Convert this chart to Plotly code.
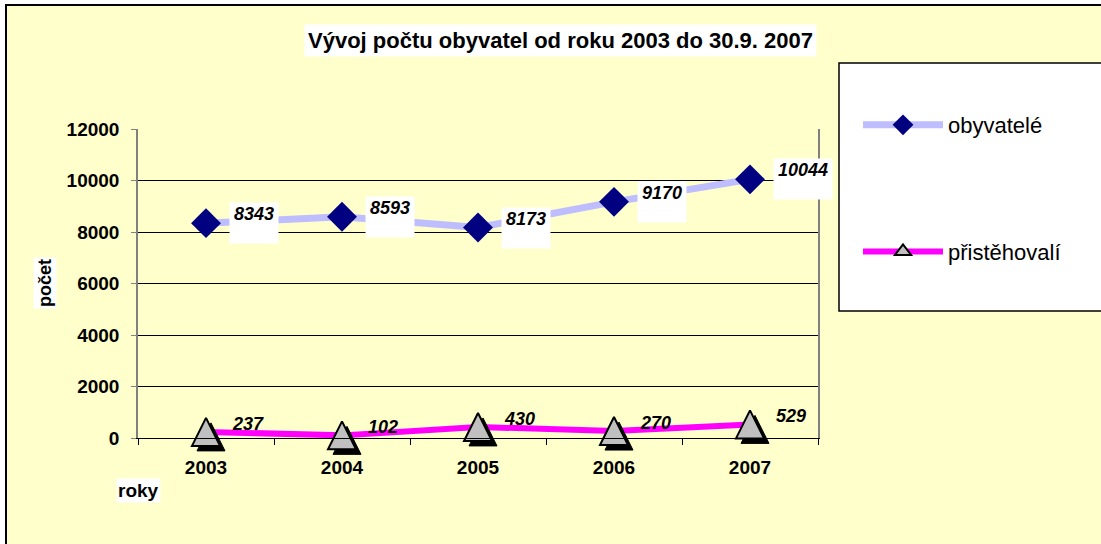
import plotly.graph_objects as go

# ---- data ----
years = ["2003", "2004", "2005", "2006", "2007"]
obyvatele = [8343, 8593, 8173, 9170, 10044]
pristehovali = [237, 102, 430, 270, 529]
series_names = ["obyvatelé", "přistěhovalí"]
title_text = "Vývoj počtu obyvatel od roku 2003 do 30.9. 2007"
x_title = "roky"
y_title = "počet"
y_ticks = [0, 2000, 4000, 6000, 8000, 10000, 12000]
y_ticklabels = [str(v) for v in y_ticks]

# ---- layout constants (pixels) ----
W, H = 1101, 544
ML, MR, MT, MB = 138, 283, 129, 106
PW = W - ML - MR
PH = H - MT - MB
YMAX = 12000
XR = [-0.5, len(years) - 0.5]
FONT = "Arial, 'Liberation Sans', sans-serif"
BG = "#FFFFCC"
TRI = 28          # triangle marker size (px)

def px_x(px):
    return (px - ML) / PW

def px_y(py):
    return (H - MB - py) / PH

ux = (XR[1] - XR[0]) / PW
uy = YMAX / PH

def xr_shift(dx):   # move marks right by dx px
    return [XR[0] - dx * ux, XR[1] - dx * ux]

def yr_shift(dy):   # move marks up by dy px
    return [-dy * uy, YMAX - dy * uy]

fig = go.Figure()

# obyvatelé
fig.add_trace(go.Scatter(
    x=years, y=obyvatele, mode="lines+markers", name=series_names[0],
    line=dict(color="#BDBDFF", width=7),
    marker=dict(symbol="diamond", size=23, color="#000080"),
    legendgroup="a", cliponaxis=False))

# přistěhovalí line
fig.add_trace(go.Scatter(
    x=years, y=pristehovali, mode="lines", name=series_names[1],
    line=dict(color="#FF00FF", width=6), showlegend=False,
    legendgroup="b", cliponaxis=False))

# shadow triangles (offset right/down)
fig.add_trace(go.Scatter(
    x=years, y=pristehovali, mode="markers", xaxis="x2", yaxis="y2",
    marker=dict(symbol="arrow-up", size=TRI, color="black",
                line=dict(color="black", width=1)),
    showlegend=False, hoverinfo="skip", cliponaxis=False))

# triangles (centred on the value)
fig.add_trace(go.Scatter(
    x=years, y=pristehovali, mode="markers", xaxis="x3", yaxis="y3",
    name=series_names[1],
    marker=dict(symbol="arrow-up", size=TRI, color="#C0C0C0",
                line=dict(color="black", width=2)),
    showlegend=False, legendgroup="b", cliponaxis=False))

# legend entry for přistěhovalí
fig.add_trace(go.Scatter(
    x=[None], y=[None], mode="lines+markers", name=series_names[1],
    line=dict(color="#FF00FF", width=6),
    marker=dict(symbol="triangle-up", size=14, color="#C0C0C0",
                line=dict(color="black", width=2)),
    legendgroup="b"))

annotations = []
for i, v in enumerate(obyvatele):
    t = str(v)
    annotations.append(dict(
        x=i, y=v, xref="x", yref="y", text="<b><i>%s</i></b>" % t,
        showarrow=False, xanchor="left", yanchor="middle", xshift=23,
        bgcolor="white", width=10 * len(t) + 6, height=38, valign="top",
        align="center", font=dict(family=FONT, size=18, color="black")))
for i, v in enumerate(pristehovali):
    annotations.append(dict(
        x=i, y=v, xref="x", yref="y", text="<b><i>%s</i></b>" % v,
        showarrow=False, xanchor="left", yanchor="middle", xshift=24, yshift=8,
        font=dict(family=FONT, size=18, color="black")))

annotations.append(dict(
    x=px_x(560), y=px_y(40), xref="paper", yref="paper",
    text="<b>%s</b>" % title_text, showarrow=False, bgcolor="white",
    xanchor="center", yanchor="middle", borderpad=3,
    font=dict(family=FONT, size=22, color="black")))
annotations.append(dict(
    x=px_x(138), y=px_y(490), xref="paper", yref="paper",
    text="<b>%s</b>" % x_title, showarrow=False, bgcolor="white",
    xanchor="center", yanchor="middle",
    font=dict(family=FONT, size=19, color="black")))
annotations.append(dict(
    x=px_x(45), y=px_y(283), xref="paper", yref="paper",
    text="<b>%s</b>" % y_title, showarrow=False, bgcolor="white", textangle=-90,
    xanchor="center", yanchor="middle",
    font=dict(family=FONT, size=18, color="black")))

shapes = [
    # outer chart area
    dict(type="rect", xref="paper", yref="paper", layer="below",
         x0=px_x(6), x1=px_x(W + 20), y0=px_y(H + 20), y1=px_y(5),
         fillcolor=BG, line=dict(color="black", width=2)),
    # legend box
    dict(type="rect", xref="paper", yref="paper", layer="below",
         x0=px_x(839), x1=px_x(W + 20), y0=px_y(311), y1=px_y(63),
         fillcolor="white", line=dict(color="black", width=1.5)),
]

axis_font = dict(family=FONT, size=19, color="black", weight="bold")

fig.update_layout(
    width=W, height=H,
    margin=dict(l=ML, r=MR, t=MT, b=MB),
    paper_bgcolor="white", plot_bgcolor=BG,
    font=dict(family=FONT, color="black"),
    xaxis=dict(type="category", range=XR, showgrid=False, showline=True,
               linecolor="black", linewidth=1, ticks="outside", tickson="boundaries",
               ticklen=6, tickcolor="black", tickfont=axis_font,
               ticklabelstandoff=12),
    yaxis=dict(range=[0, YMAX], tickvals=y_ticks, ticktext=y_ticklabels,
               showgrid=True, gridcolor="black",
               gridwidth=1, showline=True, linecolor="#808080", linewidth=1.5,
               mirror=True, ticks="outside", ticklen=5, tickcolor="#808080",
               tickfont=axis_font, ticklabelstandoff=8, zeroline=False),
    xaxis2=dict(type="category", overlaying="x", visible=False, range=xr_shift(5)),
    yaxis2=dict(overlaying="y", visible=False, range=yr_shift(TRI / 2 - 5)),
    xaxis3=dict(type="category", overlaying="x", visible=False, range=XR),
    yaxis3=dict(overlaying="y", visible=False, range=yr_shift(TRI / 2)),
    legend=dict(x=px_x(858), y=px_y(104), xanchor="left", yanchor="top",
                bgcolor="rgba(0,0,0,0)", borderwidth=0,
                font=dict(family=FONT, size=22, color="black"),
                itemwidth=80, traceorder="grouped", tracegroupgap=95),
    annotations=annotations,
    shapes=shapes,
    showlegend=True,
)

fig.write_html("out.html", config={"displayModeBar": False},
               post_script="document.body.style.margin='0';document.body.style.padding='0';")
